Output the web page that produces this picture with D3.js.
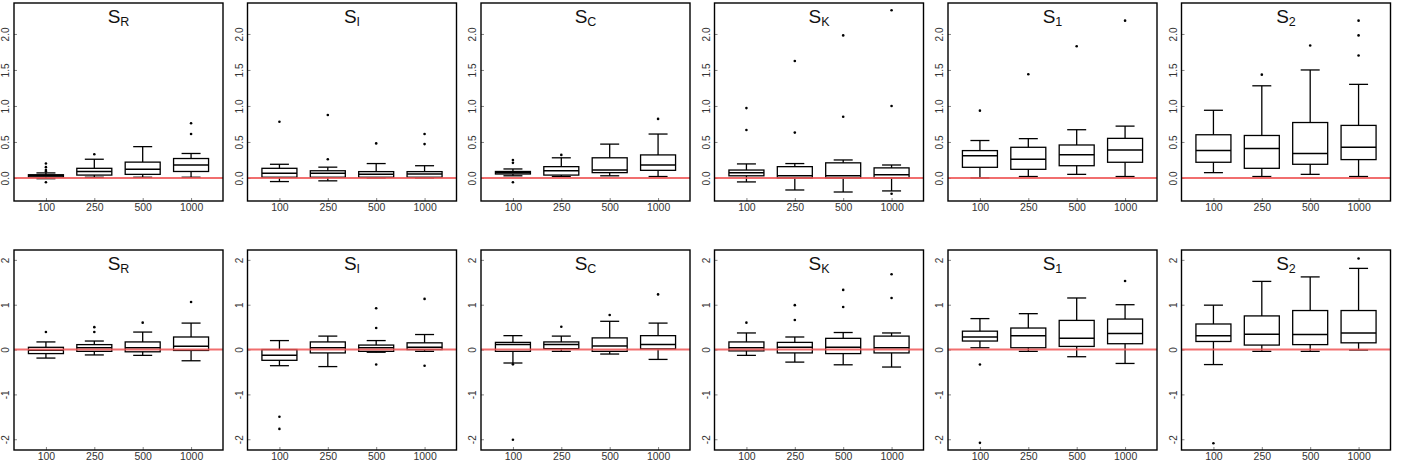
<!DOCTYPE html>
<html><head><meta charset="utf-8">
<script src="https://cdn.jsdelivr.net/npm/d3@7"></script>
<style>
html,body{margin:0;padding:0;background:#fff;}
svg{display:block;font-family:"Liberation Sans",Arial,sans-serif;}
</style></head>
<body>
<svg id="chart" width="1402" height="468"></svg>
<script>
// ---------- data ----------
const categories = ["100", "250", "500", "1000"];
const subscripts = ["R", "I", "C", "K", "1", "2"];
const topTicks = [0, 0.5, 1, 1.5, 2];
const topTickLabels = ["0.0", "0.5", "1.0", "1.5", "2.0"];
const bottomTicks = [-2, -1, 0, 1, 2];
const bottomTickLabels = ["-2", "-1", "0", "1", "2"];

// box stats per category: [lower whisker, Q1, median, Q3, upper whisker]
const topR = [[-0.01,0.015,0.03,0.045,0.07],[0.01,0.04,0.088,0.134,0.26],[0.01,0.05,0.12,0.22,0.435],[0.01,0.09,0.18,0.27,0.34]];
const topR_out = [[0.2,0.15,0.11,0.09,-0.06],[0.33],[],[0.76,0.61]];
const topI = [[-0.05,0.01,0.065,0.134,0.19],[-0.04,0.01,0.065,0.10,0.15],[0.0,0.01,0.05,0.088,0.2],[0.0,0.01,0.055,0.088,0.17]];
const topI_out = [[0.78],[0.875,0.26],[0.48],[0.61,0.47]];
const topC = [[0.03,0.055,0.074,0.09,0.125],[0.02,0.04,0.10,0.157,0.28],[0.03,0.074,0.11,0.28,0.47],[0.02,0.106,0.18,0.32,0.61]];
const topC_out = [[0.25,0.21,-0.06],[0.32],[],[0.82]];
const topK = [[-0.055,0.03,0.074,0.11,0.195],[-0.167,0.0,0.03,0.157,0.2],[-0.195,0.0,0.03,0.21,0.25],[-0.18,0.0,0.046,0.14,0.18]];
const topK_out = [[0.97,0.667],[1.625,0.63],[1.98,0.85],[2.33,1.0,-0.22]];
const top1 = [[0.0,0.148,0.31,0.38,0.52],[0.02,0.12,0.26,0.426,0.546],[0.05,0.17,0.324,0.458,0.67],[0.02,0.218,0.39,0.55,0.72]];
const top1_out = [[0.935],[1.44],[1.83],[2.185]];
const top2 = [[0.074,0.218,0.38,0.60,0.94],[0.02,0.134,0.41,0.59,1.28],[0.05,0.19,0.34,0.77,1.5],[0.02,0.255,0.426,0.73,1.30]];
const top2_out = [[],[1.435],[1.84],[2.185,1.98,1.70]];

const botR = [[-0.19,-0.09,-0.015,0.05,0.17],[-0.12,-0.04,0.04,0.11,0.19],[-0.13,-0.05,0.04,0.17,0.39],[-0.25,-0.02,0.075,0.28,0.59]];
const botR_out = [[0.39],[0.5,0.39],[0.6],[1.06]];
const botI = [[-0.36,-0.24,-0.127,0.0,0.2],[-0.38,-0.075,0.04,0.17,0.3],[-0.06,-0.04,0.04,0.1,0.2],[-0.04,0.0,0.05,0.15,0.335]];
const botI_out = [[-1.5,-1.77],[],[0.92,0.48,-0.335],[1.13,-0.36]];
const botC = [[-0.3,-0.04,0.11,0.16,0.31],[-0.04,0.02,0.11,0.17,0.3],[-0.1,-0.04,0.08,0.26,0.63],[-0.22,0.015,0.11,0.31,0.59]];
const botC_out = [[-0.33,-2.01],[0.51],[0.77],[1.23]];
const botK = [[-0.13,-0.03,0.04,0.17,0.37],[-0.28,-0.075,0.05,0.16,0.28],[-0.34,-0.09,0.05,0.25,0.38],[-0.39,-0.075,0.04,0.3,0.37]];
const botK_out = [[0.6],[0.99,0.66],[1.33,0.95],[1.68,1.15]];
const bot1 = [[0.04,0.19,0.28,0.41,0.69],[-0.04,0.04,0.31,0.48,0.8],[-0.16,0.07,0.25,0.65,1.15],[-0.31,0.13,0.36,0.68,1.0]];
const bot1_out = [[-0.335,-2.08],[],[],[1.53]];
const bot2 = [[-0.335,0.18,0.31,0.57,0.99],[-0.04,0.1,0.34,0.75,1.52],[-0.04,0.11,0.335,0.87,1.62],[-0.01,0.15,0.37,0.87,1.81]];
const bot2_out = [[-2.09],[],[],[2.03]];

const topStats = [topR, topI, topC, topK, top1, top2];
const topOut = [topR_out, topI_out, topC_out, topK_out, top1_out, top2_out];
const botStats = [botR, botI, botC, botK, bot1, bot2];
const botOut = [botR_out, botI_out, botC_out, botK_out, bot1_out, bot2_out];

// ---------- layout ----------
const svg = d3.select("#chart");
const panelW = 209, panelStep = 233.5, firstLeft = 14;
const rows = [
  {top: 3, bottom: 201, domain: [-0.32, 2.43], ticks: topTicks, labels: topTickLabels, stats: topStats, outs: topOut},
  {top: 250, bottom: 450, domain: [-2.24, 2.22], ticks: bottomTicks, labels: bottomTickLabels, stats: botStats, outs: botOut}
];
const boxW = 35, capW = 19;

rows.forEach((row) => {
  const y = d3.scaleLinear().domain(row.domain).range([row.bottom, row.top]);
  subscripts.forEach((sub, i) => {
    const left = firstLeft + i * panelStep;
    const x = d3.scalePoint().domain(categories).range([left, left + panelW]).padding(0.66);
    const g = svg.append("g");

    // y axis (left), inward ticks, rotated labels
    const yAxis = d3.axisLeft(y).tickValues(row.ticks)
      .tickFormat((d, k) => row.labels[k]).tickSizeInner(-3).tickSizeOuter(0);
    const ya = g.append("g").attr("transform", `translate(${left},0)`).call(yAxis);
    ya.select(".domain").remove();
    ya.selectAll("line").attr("stroke", "#666").attr("stroke-width", 0.8);
    ya.selectAll("text")
      .attr("transform", "rotate(-90)").attr("x", 0).attr("y", -5).attr("dy", 0)
      .attr("text-anchor", "middle").attr("fill", "#333")
      .style("font-size", "10px").style("font-family", "Liberation Sans, Arial, sans-serif");

    // x axis (bottom), inward ticks
    const xAxis = d3.axisBottom(x).tickSizeInner(-3).tickSizeOuter(0);
    const xa = g.append("g").attr("transform", `translate(0,${row.bottom})`).call(xAxis);
    xa.select(".domain").remove();
    xa.selectAll("line").attr("stroke", "#666").attr("stroke-width", 0.8);
    xa.selectAll("text").attr("y", 3).attr("dy", "0.71em").attr("fill", "#333")
      .style("font-size", "10.5px").style("font-family", "Liberation Sans, Arial, sans-serif");

    // boxes
    const stats = row.stats[i];
    const outs = row.outs[i];
    categories.forEach((c, k) => {
      const s = stats[k];
      const cx = x(c);
      const bg = g.append("g").attr("stroke", "#000").attr("fill", "none").attr("stroke-width", 1.3);
      bg.append("line").attr("x1", cx).attr("x2", cx).attr("y1", y(s[3])).attr("y2", y(s[4]));
      bg.append("line").attr("x1", cx).attr("x2", cx).attr("y1", y(s[1])).attr("y2", y(s[0]));
      bg.append("line").attr("x1", cx - capW / 2).attr("x2", cx + capW / 2).attr("y1", y(s[4])).attr("y2", y(s[4]));
      bg.append("line").attr("x1", cx - capW / 2).attr("x2", cx + capW / 2).attr("y1", y(s[0])).attr("y2", y(s[0]));
      bg.append("rect").attr("x", cx - boxW / 2).attr("width", boxW)
        .attr("y", y(s[3])).attr("height", Math.max(0.5, y(s[1]) - y(s[3])));
      bg.append("line").attr("x1", cx - boxW / 2).attr("x2", cx + boxW / 2)
        .attr("y1", y(s[2])).attr("y2", y(s[2])).attr("stroke-width", 1.5);
      g.selectAll(null).data(outs[k]).enter().append("circle")
        .attr("cx", cx).attr("cy", d => y(d)).attr("r", 1.3).attr("fill", "#000");
    });

    // red reference line at 0
    g.append("line").attr("x1", left).attr("x2", left + panelW)
      .attr("y1", y(0)).attr("y2", y(0))
      .attr("stroke", "#ee5555").attr("stroke-opacity", 0.85).attr("stroke-width", 2);

    // frame
    g.append("rect").attr("x", left).attr("y", row.top).attr("width", panelW)
      .attr("height", row.bottom - row.top).attr("fill", "none")
      .attr("stroke", "#000").attr("stroke-width", 1.4);

    // title
    const t = g.append("text").attr("x", left + panelW / 2).attr("y", row.top + 20)
      .attr("text-anchor", "middle").attr("fill", "#111");
    t.append("tspan").text("S").style("font-size", "19px");
    t.append("tspan").text(sub).attr("dy", 3).style("font-size", "12.5px");
  });
});
</script>
</body></html>
